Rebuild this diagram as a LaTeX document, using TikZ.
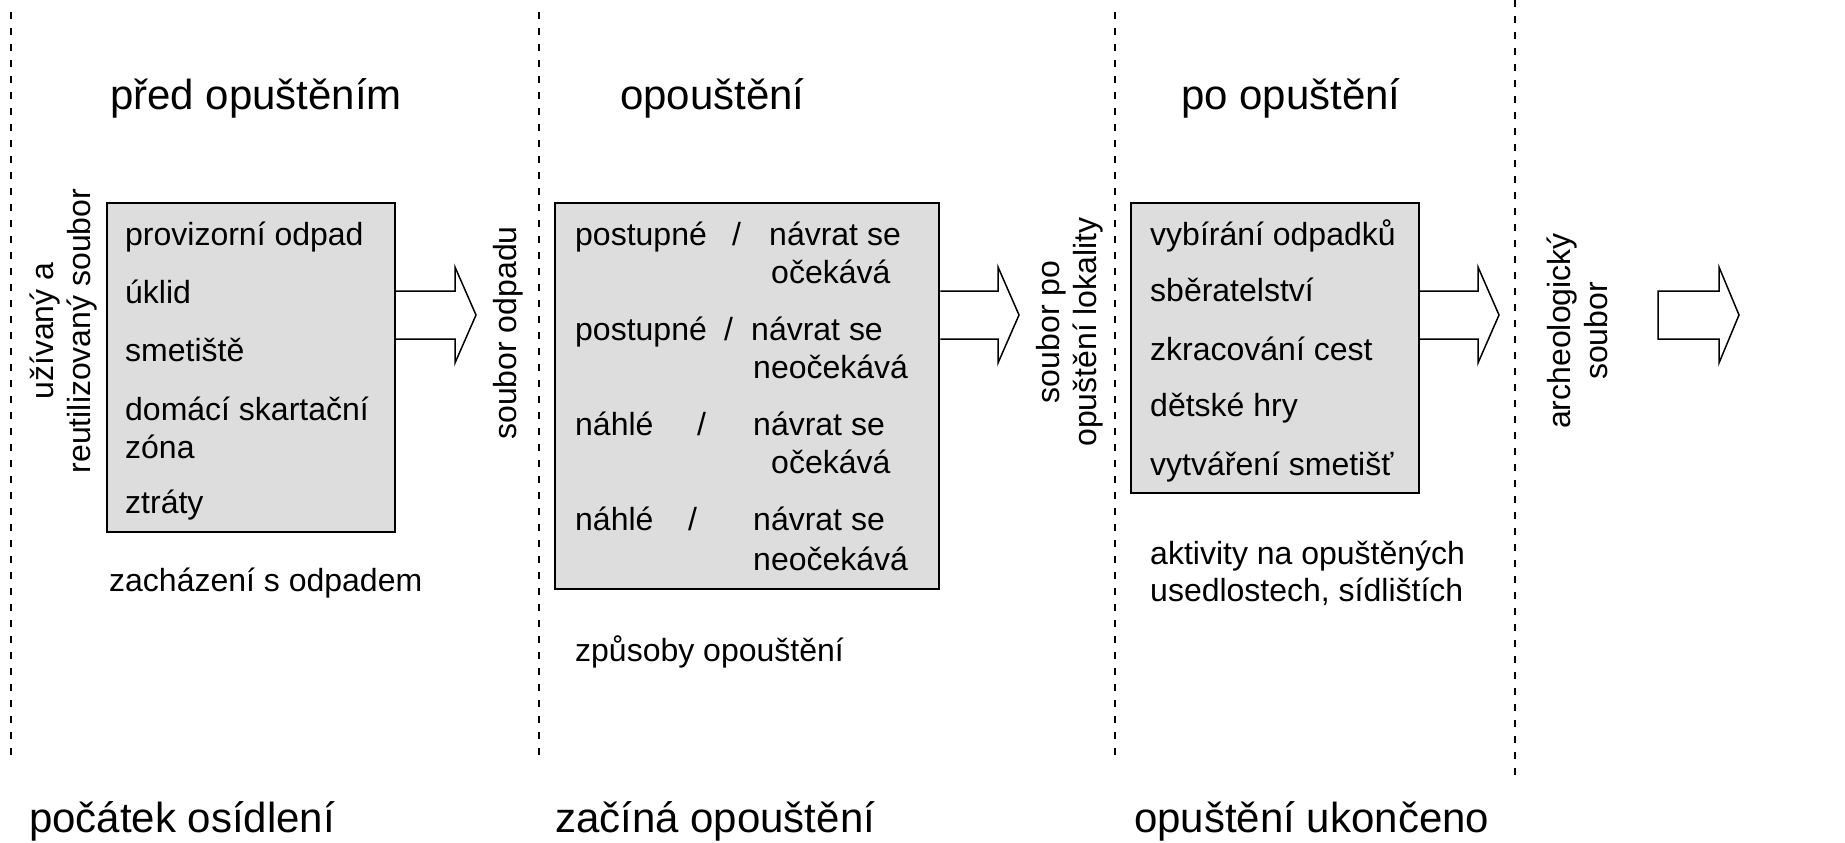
\documentclass[tikz,border=0pt]{standalone}
\usepackage{fontspec}
\setmainfont{Liberation Sans}
\definecolor{boxgray}{RGB}{221,221,221}
\tikzset{
  box/.style={draw, line width=2pt, fill=boxgray, inner sep=0pt},
  txt/.style={anchor=base west, inner sep=0pt, font=\fontsize{32}{38}\selectfont},
  ttl/.style={anchor=base west, inner sep=0pt, font=\fontsize{42}{50}\selectfont},
  vtxt/.style={rotate=90, align=center, inner sep=0pt, font=\fontsize{32}{37}\selectfont},
  sepline/.style={line width=2pt, dash pattern=on 7pt off 9pt},
  blockarrow/.style={line width=1.5pt, line join=miter},
}
\begin{document}
\begin{tikzpicture}[x=1pt,y=-1pt]
\path[use as bounding box, fill=white] (0,0) rectangle (1845,843);

% separators
\draw[sepline] (11,12) -- (11,758);
\draw[sepline] (539,12) -- (539,758);
\draw[sepline] (1114.5,12) -- (1114.5,758);
\draw[sepline] (1515,0) -- (1515,780);

% titles
\node[ttl] (t1) at (110,110) {před opuštěním};
\node[ttl] (t2) at (620,110) {opouštění};
\node[ttl] (t3) at (1181,110) {po opuštění};

% bottom labels
\node[ttl] (m1) at (29,832) {počátek osídlení};
\node[ttl] (m2) at (555,832) {začíná opouštění};
\node[ttl] (m3) at (1134,832) {opuštění ukončeno};

% boxes
\node[box, minimum width=288.3pt, minimum height=328.4pt] (b1) at (250.85,367.5) {};
\node[box, minimum width=384.3pt, minimum height=386pt] (b2) at (747.15,396.3) {};
\node[box, minimum width=288pt, minimum height=290pt] (b3) at (1275,348.3) {};

% box 1 text
\node[txt] (a1) at (125,245) {provizorní odpad};
\node[txt] (a2) at (125,303.3) {úklid};
\node[txt] (a3) at (125,361.7) {smetiště};
\node[txt] (a4) at (125,420) {domácí skartační};
\node[txt] (a5) at (125,458.3) {zóna};
\node[txt] (a6) at (125,513.3) {ztráty};
\node[txt] (c1) at (109,591.7) {zacházení s odpadem};

% box 2 text
\node[txt] (p1) at (575,245) {postupné};
\node[txt] (s1) at (732,245) {/};
\node[txt] (n1) at (769,245) {návrat se};
\node[txt] (o1) at (771,283.3) {očekává};
\node[txt] (p2) at (575,340) {postupné};
\node[txt] (s2) at (724,340) {/};
\node[txt] (n2) at (751,340) {návrat se};
\node[txt] (o2) at (753,378.3) {neočekává};
\node[txt] (p3) at (575,435) {náhlé};
\node[txt] (s3) at (697,435) {/};
\node[txt] (n3) at (753,435) {návrat se};
\node[txt] (o3) at (771,473.3) {očekává};
\node[txt] (p4) at (575,530) {náhlé};
\node[txt] (s4) at (688,530) {/};
\node[txt] (n4) at (753,530) {návrat se};
\node[txt] (o4) at (753,570) {neočekává};
\node[txt] (c2) at (575,661) {způsoby opouštění};

% box 3 text
\node[txt] (r1) at (1150,245) {vybírání odpadků};
\node[txt] (r2) at (1150,301.7) {sběratelství};
\node[txt] (r3) at (1150,360) {zkracování cest};
\node[txt] (r4) at (1150,416.7) {dětské hry};
\node[txt] (r5) at (1150,475) {vytváření smetišť};
\node[txt] (c3) at (1150,564) {aktivity na opuštěných};
\node[txt] (c4) at (1150,601) {usedlostech, sídlištích};

% vertical labels
\node[vtxt] (v1) at (64,331) {užívaný a\\reutilizovaný soubor};
\node[vtxt] (v2) at (508,333) {soubor odpadu};
\node[vtxt] (v3) at (1070,332) {soubor po\\opuštění lokality};
\node[vtxt] (v4) at (1577,331) {archeologický\\soubor};

% block arrows
\draw[blockarrow] (b1.east |- 0,291) -- (455,291) -- (455,267) -- (476,315) -- (455,363) -- (455,339) -- (b1.east |- 0,339);
\draw[blockarrow] (b2.east |- 0,291) -- (998,291) -- (998,267) -- (1019,315) -- (998,363) -- (998,339) -- (b2.east |- 0,339);
\draw[blockarrow] (b3.east |- 0,291) -- (1478,291) -- (1478,267) -- (1499,315) -- (1478,363) -- (1478,339) -- (b3.east |- 0,339);
\coordinate (f4) at (1658,291);
\draw[blockarrow] (f4) -- (1719,291) -- (1719,267) -- (1739,315) -- (1719,363) -- (1719,339) -- (1658,339) -- cycle;
\end{tikzpicture}
\end{document}
